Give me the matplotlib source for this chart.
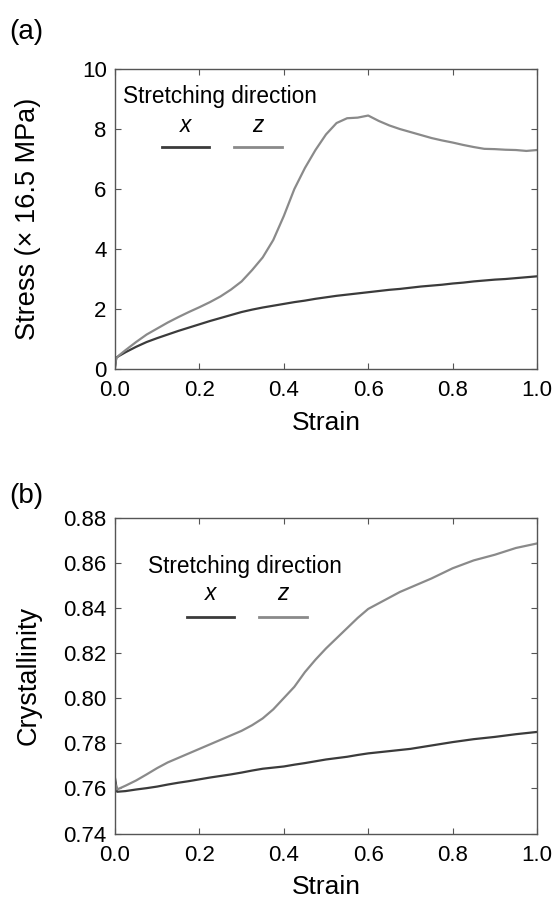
import numpy as np
import matplotlib
matplotlib.use("Agg")
import matplotlib.pyplot as plt
from matplotlib.ticker import FormatStrFormatter

plt.rcParams["font.family"] = ["Liberation Sans", "DejaVu Sans"]

# === (a) stress-strain
strain_a = [0.0, 0.003, 0.01, 0.025, 0.05, 0.075, 0.1, 0.125, 0.15, 0.175, 0.2,
            0.225, 0.25, 0.275, 0.3, 0.325, 0.35, 0.375, 0.4, 0.425, 0.45, 0.475,
            0.5, 0.525, 0.55, 0.575, 0.6, 0.625, 0.65, 0.675, 0.7, 0.725, 0.75,
            0.775, 0.8, 0.825, 0.85, 0.875, 0.9, 0.925, 0.95, 0.975, 1.0]
stress_x = [0.05, 0.38, 0.44, 0.56, 0.74, 0.9, 1.03, 1.15, 1.27, 1.38, 1.49,
            1.6, 1.7, 1.8, 1.9, 1.98, 2.05, 2.11, 2.17, 2.23, 2.28, 2.34,
            2.39, 2.44, 2.48, 2.52, 2.56, 2.6, 2.64, 2.67, 2.71, 2.75, 2.78,
            2.81, 2.85, 2.88, 2.92, 2.95, 2.98, 3.0, 3.03, 3.06, 3.09]
stress_z = [0.1, 0.36, 0.46, 0.63, 0.9, 1.15, 1.35, 1.55, 1.73, 1.9, 2.06,
            2.23, 2.42, 2.65, 2.92, 3.3, 3.72, 4.3, 5.1, 6.0, 6.7, 7.3,
            7.82, 8.2, 8.36, 8.38, 8.45, 8.27, 8.12, 8.0, 7.9, 7.8, 7.7,
            7.62, 7.55, 7.47, 7.4, 7.34, 7.33, 7.31, 7.3, 7.27, 7.3]

# === (b) crystallinity-strain
strain_b = [0.0, 0.005, 0.025, 0.05, 0.075, 0.1, 0.125, 0.15, 0.175, 0.2, 0.225,
            0.25, 0.275, 0.3, 0.325, 0.35, 0.375, 0.4, 0.425, 0.45, 0.475, 0.5,
            0.525, 0.55, 0.575, 0.6, 0.625, 0.65, 0.675, 0.7, 0.75, 0.8, 0.85,
            0.9, 0.95, 1.0]
cryst_x = [0.7645, 0.7585, 0.7588, 0.7595, 0.7601, 0.7608, 0.7617, 0.7625, 0.7632, 0.764, 0.7648,
           0.7655, 0.7662, 0.767, 0.7679, 0.7687, 0.7692, 0.7697, 0.7705, 0.7712, 0.772, 0.7728,
           0.7734, 0.774, 0.7748, 0.7755, 0.776, 0.7765, 0.777, 0.7775, 0.779, 0.7805, 0.7818,
           0.7828, 0.784, 0.785]
cryst_z = [0.7625, 0.7595, 0.7612, 0.7635, 0.7662, 0.769, 0.7715, 0.7735, 0.7755, 0.7775, 0.7795,
           0.7815, 0.7835, 0.7855, 0.788, 0.791, 0.795, 0.8, 0.805, 0.8115, 0.817, 0.822,
           0.8265, 0.831, 0.8355, 0.8395, 0.842, 0.8445, 0.847, 0.849, 0.853, 0.8575, 0.861,
           0.8635, 0.8665, 0.8685]

col_x = "#3b3b3b"
col_z = "#8a8a8a"
spine_col = "#555555"

fig = plt.figure(figsize=(5.54, 9.06), dpi=100, facecolor="white")
ax1 = fig.add_axes([0.2076, 0.5927, 0.7617, 0.3311])
ax2 = fig.add_axes([0.2076, 0.0800, 0.7617, 0.3488])


def style_axes(ax):
    for sp in ax.spines.values():
        sp.set_color(spine_col)
        sp.set_linewidth(1.0)
    ax.tick_params(direction="in", length=4, width=0.8, color=spine_col,
                   top=True, right=True, labelsize=16, pad=6)
    ax.tick_params(axis="x", pad=8)
    ax.set_xlim(0, 1.0)
    ax.set_xticks([0.0, 0.2, 0.4, 0.6, 0.8, 1.0])
    ax.xaxis.set_major_formatter(FormatStrFormatter("%.1f"))
    ax.set_xlabel("Strain", fontsize=19, labelpad=7)


def draw_key(ax, tx, ty, lx_x, lx_z, ly, lab_y):
    ax.text(tx, ty, "Stretching direction", transform=ax.transAxes,
            fontsize=16.3, ha="left", va="baseline")
    ax.text(np.mean(lx_x), lab_y, "x", style="italic", transform=ax.transAxes,
            fontsize=16.3, ha="center", va="baseline")
    ax.text(np.mean(lx_z), lab_y, "z", style="italic", transform=ax.transAxes,
            fontsize=16.3, ha="center", va="baseline")
    ax.plot(lx_x, [ly, ly], color=col_x, lw=2.0, transform=ax.transAxes)
    ax.plot(lx_z, [ly, ly], color=col_z, lw=2.0, transform=ax.transAxes)


# --- panel (a)
ax1.plot(strain_a, stress_x, color=col_x, lw=1.6)
ax1.plot(strain_a, stress_z, color=col_z, lw=1.6)
style_axes(ax1)
ax1.set_ylim(0, 10)
ax1.set_yticks([0, 2, 4, 6, 8, 10])
ax1.set_ylabel("Stress (× 16.5 MPa)", fontsize=19.5)
ax1.yaxis.set_label_coords(-0.175, 0.5)
draw_key(ax1, 0.02, 0.887, [0.111, 0.2235], [0.282, 0.395], 0.741, 0.79)
fig.text(0.016, 0.965, "(a)", fontsize=20, ha="left", va="center")

# --- panel (b)
ax2.plot(strain_b, cryst_x, color=col_x, lw=1.6)
ax2.plot(strain_b, cryst_z, color=col_z, lw=1.6)
style_axes(ax2)
ax2.set_ylim(0.74, 0.88)
ax2.set_yticks([0.74, 0.76, 0.78, 0.80, 0.82, 0.84, 0.86, 0.88])
ax2.yaxis.set_major_formatter(FormatStrFormatter("%.2f"))
ax2.set_ylabel("Crystallinity", fontsize=19.5)
ax2.yaxis.set_label_coords(-0.175, 0.5)
draw_key(ax2, 0.079, 0.823, [0.17, 0.2827], [0.341, 0.454], 0.686, 0.739)
fig.text(0.016, 0.452, "(b)", fontsize=20, ha="left", va="center")

plt.savefig("out.png", dpi=100, facecolor="white")
